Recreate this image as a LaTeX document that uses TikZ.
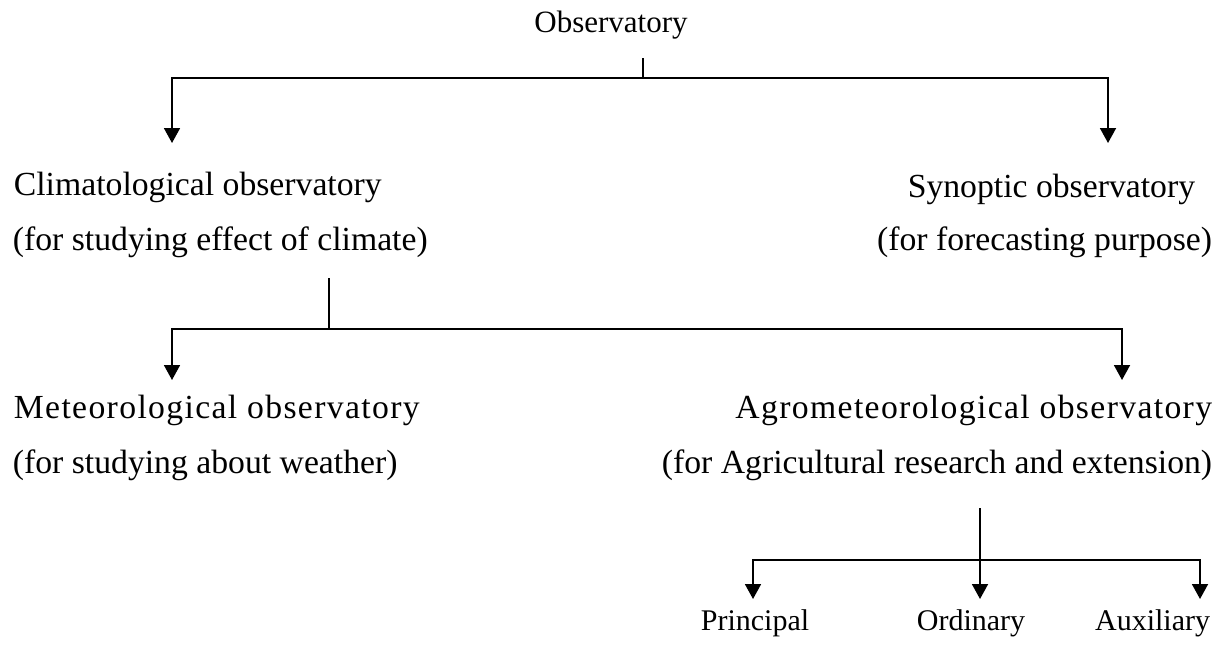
\documentclass[tikz,border=0pt]{standalone}
\usepackage{fontspec}
\setmainfont{Liberation Serif}
\usetikzlibrary{arrows.meta}
\tikzset{
  arr/.style={-{Triangle[width=16pt,length=15pt]}},
  lbl/.style={inner sep=0pt,font=\fontsize{33.7}{40}\selectfont},
  spaced/.style={inner sep=0pt,font=\fontsize{33.7}{40}\selectfont\addfontfeature{LetterSpace=4}},
  leaf/.style={inner sep=0pt,font=\fontsize{30}{36}\selectfont}
}
\begin{document}
\begin{tikzpicture}[x=1pt,y=-1pt,line width=1.8pt]
\useasboundingbox (0,0) rectangle (1225,648);
% Top: observatory and its two kinds
\node[inner sep=0pt,font=\fontsize{31}{36}\selectfont,anchor=base] (obs) at (611,32) {Observatory};
\node[lbl,anchor=base west] (clim) at (13,195) {Climatological observatory};
\node[lbl,anchor=base west] (climsub) at (12,250) {(for studying effect of climate)};
\node[lbl,anchor=base east] (syn) at (1196,197) {Synoptic observatory};
\node[lbl,anchor=base east] (synsub) at (1213,250) {(for forecasting purpose)};
\coordinate (obsfoot) at (643,58);
\coordinate (obsbar) at (643,78);
\coordinate (climtip) at (172,143);
\coordinate (syntip) at (1108,143);
\draw (obsfoot) -- (obsbar);
\draw[arr] (obsbar) -| (climtip);
\draw[arr] (obsbar) -| (syntip);
% Middle: climatological splits
\node[spaced,anchor=base west] (met) at (13,418) {Meteorological observatory};
\node[lbl,anchor=base west] (metsub) at (12,473) {(for studying about weather)};
\node[spaced,anchor=base east] (agro) at (1213,418) {Agrometeorological observatory};
\node[lbl,anchor=base east] (agrosub) at (1213,473) {(for Agricultural research and extension)};
\coordinate (climfoot) at (329,278);
\coordinate (climbar) at (329,329);
\coordinate (mettip) at (172,380);
\coordinate (agrotip) at (1122,380);
\draw (climfoot) -- (climbar);
\draw[arr] (climbar) -| (mettip);
\draw[arr] (climbar) -| (agrotip);
% Bottom: agrometeorological splits
\node[leaf,anchor=base west] (prin) at (700,630) {Principal};
\node[leaf,anchor=base west] (ord) at (916,630) {Ordinary};
\node[leaf,anchor=base east] (aux) at (1211,630) {Auxiliary};
\coordinate (agrofoot) at (980,508);
\coordinate (agrobar) at (980,560);
\coordinate (printip) at (753,599);
\coordinate (ordtip) at (980,599);
\coordinate (auxtip) at (1200,599);
\draw[arr] (agrofoot) -- (ordtip);
\draw[arr] (agrobar) -| (printip);
\draw[arr] (agrobar) -| (auxtip);
\end{tikzpicture}
\end{document}
